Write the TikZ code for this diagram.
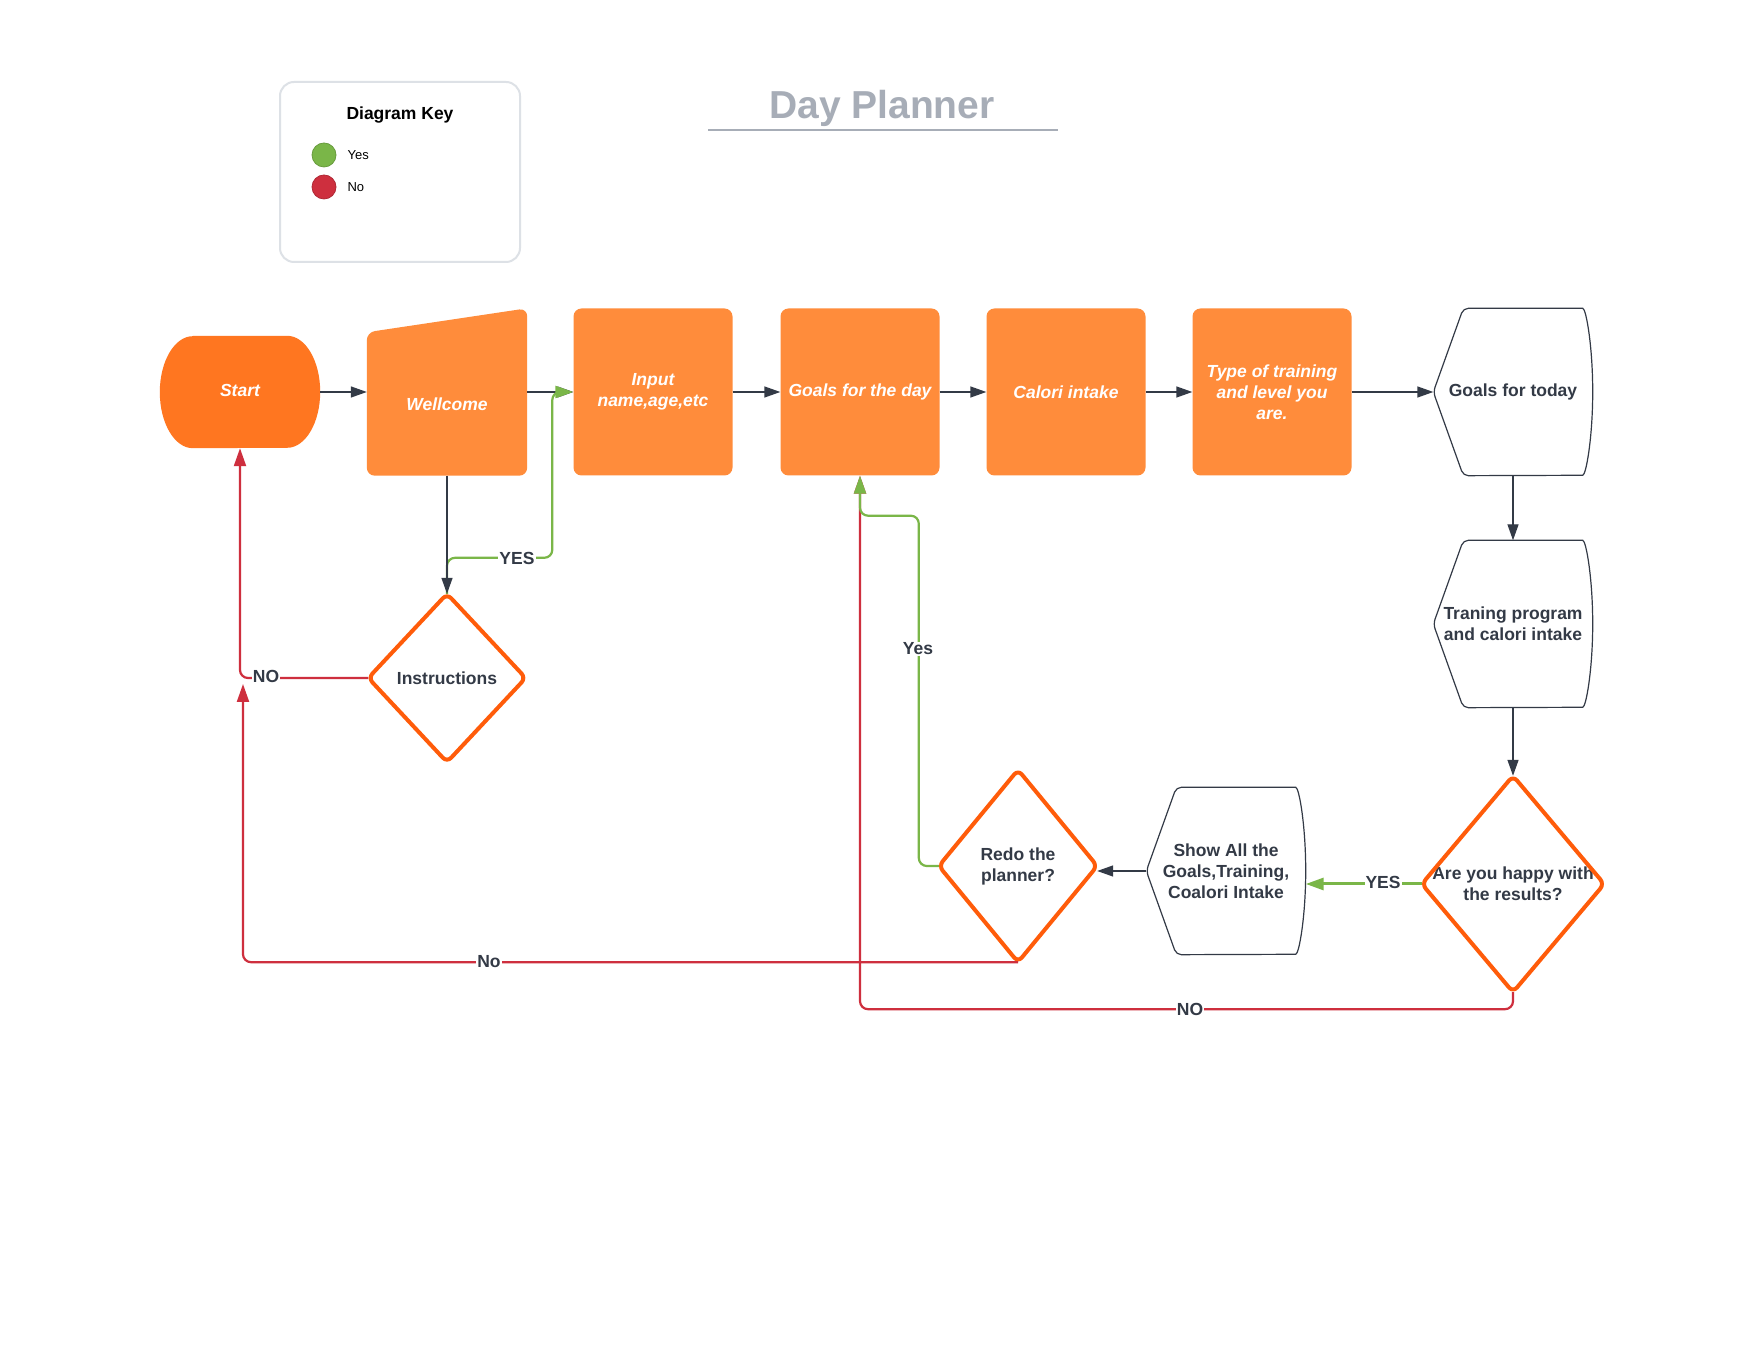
\documentclass[tikz,border=0pt]{standalone}
\usepackage{fontspec}
\setmainfont{Liberation Sans}
\usetikzlibrary{arrows.meta}

\definecolor{boxorange}{HTML}{FF8C3B}
\definecolor{startorange}{HTML}{FF7620}
\definecolor{edgeorange}{HTML}{FF5C0A}
\definecolor{inkdark}{HTML}{333A46}
\definecolor{yesgreen}{HTML}{7AB648}
\definecolor{nored}{HTML}{CE2F3E}
\definecolor{titlegray}{HTML}{A7ADB7}
\definecolor{keygray}{HTML}{DDE1E6}

% outline of a display shape, drawn round a plain node
\newcommand{\dispshape}[1]{%
  \draw[draw=inkdark, line width=1.2pt, rounded corners=5pt]
    (#1.west) -- ([xshift=30pt]#1.north west) -- ([xshift=-15pt]#1.north east)
    arc[start angle=90, end angle=-90, x radius=15pt, y radius=83.5pt]
    -- ([xshift=30pt]#1.south west) -- cycle;}
% outline of a decision, drawn through the anchors of a plain node
\newcommand{\decshape}[1]{%
  \draw[draw=edgeorange, line width=4pt, rounded corners=6pt, line join=round]
    (#1.north) -- (#1.east) -- (#1.south) -- (#1.west) -- cycle;}

\begin{document}
\begin{tikzpicture}[x=1pt, y=1pt,
  txt/.style={font=\fontsize{17.5}{21}\selectfont\bfseries},
  boxtxt/.style={text=white, font=\fontsize{17.5}{21}\selectfont\bfseries\itshape},
  box/.style={boxtxt, fill=boxorange, rounded corners=8pt, minimum width=159pt, minimum height=167pt,
    inner sep=0pt, align=center},
  disp/.style={txt, text=inkdark, align=center, minimum width=159pt, minimum height=167pt, inner sep=0pt},
  decision/.style={txt, text=inkdark, align=center, inner sep=0pt},
  flow/.style={draw=inkdark, line width=1.4pt, -{Triangle[length=16pt, width=11pt]}},
  yesflow/.style={draw=yesgreen, line width=2.2pt, rounded corners=8pt, -{Triangle[length=18pt, width=12pt]}},
  noflow/.style={draw=nored, line width=2.2pt, rounded corners=8pt, -{Triangle[length=18pt, width=12pt]}},
  lbl/.style={txt, text=inkdark, fill=white, inner sep=1pt}]
  \useasboundingbox (0,0) rectangle (1760,1360);
  \fill[white] (0,0) rectangle (1760,1360);

  % title and key
  \node (title) [text=titlegray, font=\fontsize{39}{45}\selectfont\bfseries] at (882,1252) {Day Planner};
  \draw[titlegray, line width=2pt] (708,1230) -- (1058,1230);
  \node (key) [draw=keygray, line width=2pt, rounded corners=14pt, minimum width=240pt, minimum height=180pt] at (400,1188) {};
  \node (keyt) [font=\fontsize{17.5}{21}\selectfont\bfseries] at (400,1245) {Diagram Key};
  \foreach \y/\c/\n/\t in {1205/yesgreen/C1/Yes, 1173/nored/C2/No}{%
    \node (\n) [circle, fill=\c, draw=\c!85!black, line width=0.8pt, minimum size=24pt, inner sep=0pt] at (324,\y) {};
    \node (T\n) [anchor=west, font=\fontsize{13}{15}\selectfont] at (344,\y) {\t};
  }

  % top row
  \node (S) [minimum width=160pt, minimum height=112pt, inner sep=0pt] at (240,968) {};
  \fill[startorange] ([xshift=33pt]S.north west) -- ([xshift=-33pt]S.north east)
    arc[start angle=90, end angle=-90, x radius=33pt, y radius=56pt]
    -- ([xshift=33pt]S.south west)
    arc[start angle=270, end angle=90, x radius=33pt, y radius=56pt] -- cycle;
  \node (St) [boxtxt] at (240,970) {Start};
  \node (W) [minimum width=160pt, minimum height=167pt, inner sep=0pt] at (447,968) {};
  \fill[boxorange, rounded corners=8pt] (W.south west) -- ([yshift=-24pt]W.north west) -- (W.north east) -- (W.south east) -- cycle;
  \node (Wt) [boxtxt] at (447,956) {Wellcome};
  \foreach \x/\n/\t in {653/B1/{Input\\name,age,etc}, 860/B2/{Goals for the day}, 1066/B3/{Calori intake}, 1272/B4/{Type of training\\and level you\\are.}}{%
    \node (\n) [box] at (\x,968) {\t};
  }

  % display shapes
  \foreach \x/\y/\n/\t in {1513/968/D1/{Goals for today}, 1513/736/D2/{Traning program\\and calori intake}, 1226/489/D3/{Show All the\\Goals,Training,\\Coalori Intake}}{%
    \node (\n) [disp] at (\x,\y) {\t};
    \dispshape{\n}
  }

  % decisions
  \foreach \x/\y/\w/\h/\n/\t in {447/682/157/168/Q1/{Instructions}, 1018/494/158/192/Q2/{Redo the\\planner?}, 1513/476/182/216/Q3/{Are you happy with\\the results?}}{%
    \node (\n) [decision, minimum width=\w pt, minimum height=\h pt] at (\x,\y) {\t};
    \decshape{\n}
  }

  % main flow
  \foreach \a/\b in {S/W, W/B1, B1/B2, B2/B3, B3/B4, B4/D1}{%
    \draw[flow] (\a.east) -- (\b.west);
  }
  \draw[flow] (D1.south) -- (D2.north);
  \draw[flow] (D2.south) -- (Q3.north);
  \draw[flow] (D3.west) -- (D3.west -| Q2.east);

  % no branches
  \coordinate (N1) at (243,676);
  \draw[noflow] (Q1.west) -| (S.south);
  \draw[noflow] (Q2.south) -| (N1);
  \draw[noflow] (Q3.south) -- ++(0,-17) -| (B2.south);

  % yes branches
  \draw[yesflow] (Q1.north) -- ++(0,36) -| ([xshift=-21pt]B1.west) -- (B1.west);
  \draw[flow] (W.south) -- (Q1.north);
  \draw[yesflow] (Q2.west) -- ++(-20,0) |- ([yshift=-40pt]B2.south) -- (B2.south);
  \draw[yesflow, line width=3pt] (Q3.west) -- (Q3.west -| D3.east);

  % labels
  \node (L1) [lbl] at (517,802) {YES};
  \node (L2) [lbl] at (266,684) {NO};
  \node (L3) [lbl] at (918,711) {Yes};
  \node (L4) [lbl] at (489,398) {No};
  \node (L5) [lbl] at (1190,351) {NO};
  \node (L6) [lbl] at (1383,478) {YES};
\end{tikzpicture}
\end{document}
